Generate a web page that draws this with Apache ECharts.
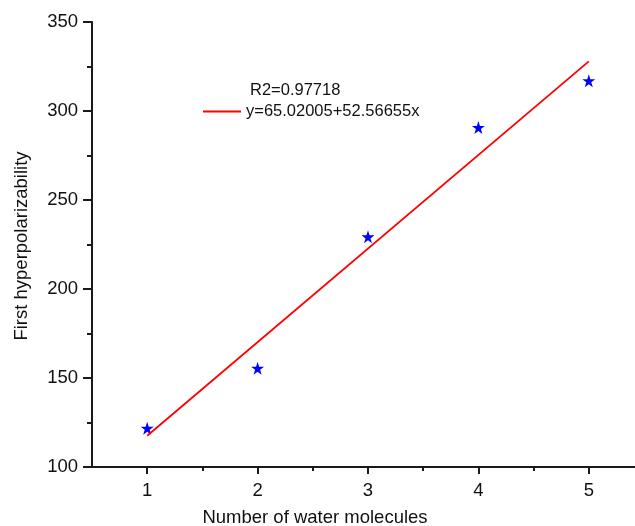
<!DOCTYPE html>
<html>
<head>
<meta charset="utf-8">
<script src="https://cdn.jsdelivr.net/npm/echarts@6/dist/echarts.min.js"></script>
<style>html,body{margin:0;padding:0;background:#fff}#c{width:635px;height:526px}</style>
</head>
<body>
<div id="c"></div>
<script>
var xValues = [1, 2, 3, 4, 5];
var yValues = [121.8, 155.5, 229.3, 290.7, 317.0];
var fitX = [1, 5];
var fitY = [117.59, 327.85];
var xMajorTicks = [1, 2, 3, 4, 5];
var xMinorTicks = [1.5, 2.5, 3.5, 4.5];
var fitLabel = 'y=65.02005+52.56655x';
var r2Label = 'R2=0.97718';
var xTitle = 'Number of water molecules';
var yTitle = 'First hyperpolarizability';

var FONT = '"Liberation Sans", Arial, sans-serif';
var STAR = 'path://M100,0 L122.45,69.1 L195.1,69.1 L136.3,111.8 L158.8,180.9 L100,138.2 L41.2,180.9 L63.7,111.8 L4.9,69.1 L77.55,69.1 Z';

var chart = echarts.init(document.getElementById('c'), null, {renderer: 'canvas'});
var axisLineStyle = {color: '#1a1a1a', width: 2};
chart.setOption({
  backgroundColor: '#fff',
  animation: false,
  grid: {left: 92, top: 22, right: -9, bottom: 59, containLabel: false, outerBoundsMode: 'none'},
  xAxis: [{
    type: 'value', min: 0.5, max: 5.5,
    axisLine: {show: true, onZero: false, lineStyle: axisLineStyle},
    axisTick: {show: true, customValues: xMajorTicks, length: 7, lineStyle: axisLineStyle},
    axisLabel: {customValues: xMajorTicks, margin: 14, fontSize: 18.5, color: '#111', fontFamily: FONT},
    splitLine: {show: false}
  }, {
    type: 'value', min: 0.5, max: 5.5, position: 'bottom',
    axisLine: {show: false, onZero: false},
    axisTick: {show: true, customValues: xMinorTicks, length: 4, lineStyle: axisLineStyle},
    axisLabel: {show: false},
    splitLine: {show: false}
  }],
  yAxis: {
    type: 'value', min: 100, max: 350, interval: 50,
    axisLine: {show: true, onZero: false, lineStyle: axisLineStyle},
    axisTick: {show: true, length: 9, lineStyle: axisLineStyle},
    minorTick: {show: true, splitNumber: 2, length: 5, lineStyle: axisLineStyle},
    axisLabel: {margin: 14, fontSize: 18.5, color: '#111', fontFamily: FONT},
    splitLine: {show: false}
  },
  legend: {
    data: [{name: fitLabel, icon: 'rect'}],
    left: 203, top: 103, padding: 0,
    itemWidth: 38, itemHeight: 2, itemGap: 0,
    textStyle: {fontSize: 16.5, color: '#111', fontFamily: FONT, padding: [0, 0, 0, 0]}
  },
  graphic: [
    {type: 'text', left: 250, top: 82, style: {text: r2Label, font: '16.5px ' + FONT, fill: '#111'}},
    {type: 'text', x: 315, y: 518, style: {text: xTitle, font: '18.5px ' + FONT, fill: '#111', align: 'center', verticalAlign: 'middle'}},
    {type: 'text', x: 22, y: 246, rotation: Math.PI / 2, style: {text: yTitle, font: '18.5px ' + FONT, fill: '#111', align: 'center', verticalAlign: 'middle'}}
  ],
  series: [{
    name: fitLabel,
    type: 'line',
    data: fitX.map(function (x, i) { return [x, fitY[i]]; }),
    symbol: 'none',
    lineStyle: {color: '#ff0000', width: 1.8},
    itemStyle: {color: '#ff0000'}
  }, {
    name: 'data',
    type: 'scatter',
    data: xValues.map(function (x, i) { return [x, yValues[i]]; }),
    symbol: STAR,
    symbolSize: 13,
    itemStyle: {color: '#0000ff', opacity: 1}
  }]
});
</script>
</body>
</html>
